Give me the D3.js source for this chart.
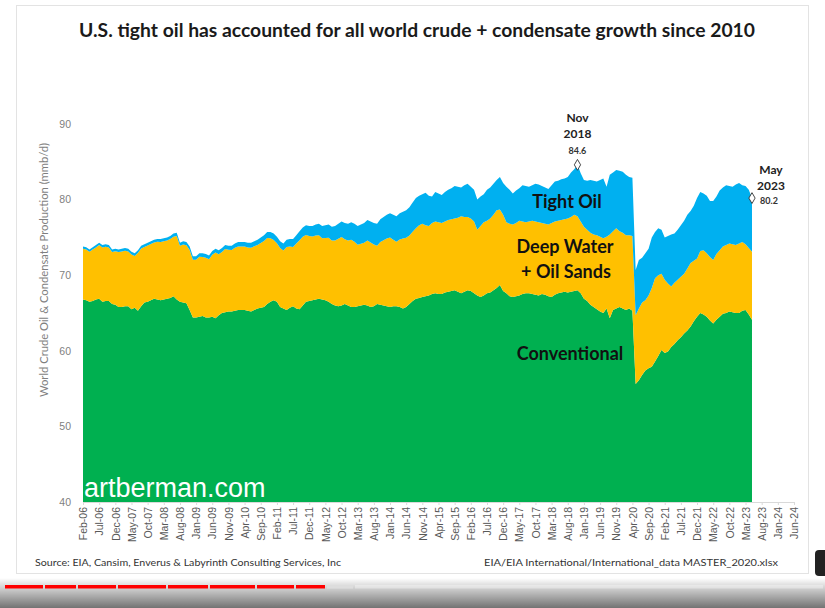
<!DOCTYPE html>
<html>
<head>
<meta charset="utf-8">
<script src="https://cdn.jsdelivr.net/npm/d3@7"></script>
<style>
  body { margin: 0; background: #fff; }
  svg { display: block; }
</style>
</head>
<body>
<div id="chart"></div>
<script>
// x-axis labels, one every 5 months from Feb-06 to Jun-24
var tickLabels = ["Feb-06","Jul-06","Dec-06","May-07","Oct-07","Mar-08","Aug-08","Jan-09","Jun-09","Nov-09",
  "Apr-10","Sep-10","Feb-11","Jul-11","Dec-11","May-12","Oct-12","Mar-13","Aug-13","Jan-14","Jun-14","Nov-14",
  "Apr-15","Sep-15","Feb-16","Jul-16","Dec-16","May-17","Oct-17","Mar-18","Aug-18","Jan-19","Jun-19","Nov-19",
  "Apr-20","Sep-20","Feb-21","Jul-21","Dec-21","May-22","Oct-22","Mar-23","Aug-23","Jan-24","Jun-24"];

var yTicks = [40, 50, 60, 70, 80, 90];

// monthly values, Feb-06 .. May-23 (mmb/d)
var conventional = [
  66.8,66.7,66.5,66.6,66.8,66.9,66.5,66.6,66.6,66.2,66.1,
  65.8,65.8,65.9,65.9,65.5,65.7,65.3,65.9,66.4,66.5,66.7,66.9,
  66.8,66.7,66.8,66.9,67.0,67.2,66.8,66.5,66.4,66.3,65.4,64.4,
  64.4,64.5,64.6,64.4,64.4,64.5,64.3,64.7,65.0,65.1,65.2,65.2,
  65.3,65.4,65.4,65.4,65.3,65.2,65.4,65.6,65.7,65.8,66.2,66.5,
  66.7,66.5,65.8,65.6,65.4,65.7,65.9,65.6,65.5,66.0,66.5,66.6,
  66.7,66.8,66.9,66.8,66.7,66.5,66.2,66.0,65.9,66.0,66.2,66.0,
  65.8,65.8,65.9,66.0,66.1,66.0,65.8,65.9,66.2,66.1,66.0,65.9,
  65.8,65.9,65.9,65.8,65.6,65.8,66.2,66.6,66.9,67.0,67.1,67.2,
  67.3,67.5,67.6,67.5,67.5,67.7,67.8,67.9,68.0,67.8,67.6,67.8,
  68.0,67.9,67.6,67.3,67.1,67.3,67.6,67.7,68.0,68.3,68.7,67.9,
  67.6,67.2,67.1,67.2,67.3,67.5,67.6,67.6,67.5,67.4,67.3,67.5,
  67.4,67.2,67.1,67.4,67.6,67.7,67.8,67.7,67.8,67.9,68.0,67.6,
  66.9,66.6,66.1,65.8,65.5,65.2,65.0,65.6,64.3,65.4,65.6,65.8,
  65.6,65.4,65.6,65.3,55.6,56.1,56.8,57.4,57.7,57.9,58.6,59.3,
  60.1,59.7,59.9,60.5,60.9,61.4,61.8,62.3,62.7,63.2,63.9,64.5,
  65.0,64.8,64.5,64.0,63.6,64.1,64.5,64.9,65.0,65.2,65.1,65.0,
  65.0,65.3,65.4,64.8,64.1
];

var deepWaterOilSands = [
  6.70,6.70,6.59,6.79,6.88,7.08,7.17,7.17,7.07,6.86,7.06,
  7.26,7.35,7.35,7.25,7.24,6.84,7.64,7.63,7.33,7.42,7.42,7.41,
  7.61,7.70,7.70,7.69,7.79,7.88,8.37,7.38,7.66,7.65,7.94,7.64,
  7.64,7.93,7.82,7.92,7.71,8.20,8.69,8.08,8.07,8.36,8.15,8.14,
  8.33,8.41,8.39,8.38,8.36,8.44,8.42,8.40,8.57,8.74,8.71,8.38,
  7.95,7.72,7.80,7.67,8.32,8.08,7.83,8.58,9.13,9.08,8.82,8.57,
  8.42,8.45,8.38,8.10,8.22,8.45,8.38,8.60,8.92,9.04,8.55,8.58,
  8.90,8.62,8.13,8.15,8.18,8.60,8.52,8.15,7.68,8.30,8.62,8.95,
  9.18,8.80,8.52,8.93,9.25,9.15,9.05,9.15,9.30,9.60,9.70,9.40,
  9.20,9.40,9.50,9.50,9.40,9.40,9.50,9.50,9.50,9.80,10.2,9.90,
  9.70,9.60,9.50,8.70,9.40,9.70,9.60,9.80,10.0,10.3,10.0,10.1,
  9.40,9.60,9.60,9.70,9.90,9.60,9.40,9.50,9.70,9.70,9.70,9.40,
  9.40,9.50,9.80,9.70,9.60,9.60,9.60,9.80,9.90,10.1,9.80,9.50,
  9.50,9.40,9.50,9.60,9.80,9.90,9.90,9.50,11.1,10.4,10.6,10.0,
  10.0,9.90,9.70,9.90,9.10,9.50,9.60,9.30,9.60,10.4,11.0,10.7,
  10.1,9.70,9.00,8.00,8.10,8.00,8.00,7.90,8.20,8.40,8.00,7.70,
  8.20,8.50,8.40,8.40,8.40,8.70,8.80,8.90,9.00,9.00,9.00,9.00,
  9.20,9.10,8.70,8.80,9.00
];

var tightOil = [
  0.30,0.30,0.31,0.31,0.32,0.32,0.33,0.33,0.33,0.34,0.34,
  0.34,0.35,0.35,0.35,0.36,0.36,0.36,0.37,0.37,0.38,0.38,0.39,
  0.39,0.40,0.40,0.41,0.41,0.42,0.43,0.42,0.44,0.45,0.46,0.46,
  0.46,0.47,0.48,0.48,0.49,0.50,0.51,0.52,0.53,0.54,0.55,0.56,
  0.57,0.59,0.61,0.62,0.64,0.66,0.68,0.70,0.73,0.76,0.79,0.82,
  0.85,0.88,0.90,0.93,0.98,1.02,1.07,1.12,1.17,1.22,1.28,1.33,
  1.38,1.45,1.52,1.60,1.68,1.75,1.82,1.90,1.98,2.06,2.15,2.22,
  2.30,2.38,2.47,2.55,2.62,2.70,2.78,2.85,2.92,3.00,3.08,3.15,
  3.22,3.30,3.38,3.47,3.55,3.65,3.75,3.85,4.00,3.90,3.90,4.30,
  4.00,3.50,3.90,3.80,3.70,3.90,4.00,4.10,4.30,4.10,3.80,4.20,
  4.40,4.20,4.20,4.00,3.90,3.70,4.10,4.10,4.10,4.00,4.30,4.20,
  4.70,4.50,4.10,4.30,4.30,4.80,4.80,4.60,4.70,5.00,5.00,4.90,
  4.80,4.70,5.00,5.30,5.30,5.40,5.40,5.50,5.90,6.00,6.80,6.40,
  6.20,6.50,7.00,7.10,7.10,7.50,7.90,6.60,7.90,7.80,7.70,8.00,
  8.10,8.00,7.70,7.70,6.00,6.40,5.90,6.20,6.20,6.70,6.10,6.20,
  5.80,5.60,6.30,6.90,6.50,6.60,6.80,7.00,7.10,6.90,7.30,8.00,
  7.80,7.50,7.60,7.40,7.80,7.60,7.90,7.80,7.90,7.60,7.60,8.00,
  8.00,7.50,7.70,7.70,7.10
];

var seriesKeys = ["conventional", "deepWaterOilSands", "tightOil"];
var seriesColors = {conventional: "#00b050", deepWaterOilSands: "#ffc000", tightOil: "#00b0f0"};
var calloutMonths = [{idx: 153, lines: ["Nov", "2018"]}, {idx: 207, lines: ["May", "2023"]}];

var W = 825, H = 608;
var plot = {left: 83, right: 794, top: 124, bottom: 502};

var svg = d3.select("#chart").append("svg")
    .attr("width", W)
    .attr("height", H)
    .style("font-family", "Lato, 'Open Sans', sans-serif");

svg.append("rect").attr("width", W).attr("height", H).attr("fill", "#fff");

// slide frame
svg.append("rect")
    .attr("x", 16.5).attr("y", 5.5)
    .attr("width", 792).attr("height", 568)
    .attr("fill", "#fff")
    .attr("stroke", "#e3e3e3");

var x = d3.scaleLinear().domain([0, 220]).range([plot.left, plot.right]);
var y = d3.scaleLinear().domain([40, 90]).range([plot.bottom, plot.top]);

var rows = conventional.map(function(v, i) {
    return {i: i, conventional: v, deepWaterOilSands: deepWaterOilSands[i], tightOil: tightOil[i]};
});
var stacked = d3.stack().keys(seriesKeys)(rows);

svg.append("clipPath").attr("id", "plotclip")
  .append("rect")
    .attr("x", plot.left - 1).attr("y", plot.top - 30)
    .attr("width", plot.right - plot.left + 2).attr("height", plot.bottom - plot.top + 30);

var area = d3.area()
    .x(function(d) { return x(d.data.i); })
    .y0(function(d) { return y(Math.max(d[0], 40)); })
    .y1(function(d) { return y(d[1]); });

svg.append("g")
    .attr("clip-path", "url(#plotclip)")
  .selectAll("path")
  .data(stacked)
  .enter().append("path")
    .attr("fill", function(d) { return seriesColors[d.key]; })
    .attr("d", area);

// watermark
svg.append("text")
    .attr("x", 84).attr("y", 497)
    .attr("fill", "#fff")
    .style("font-family", "'Liberation Sans', Arial, sans-serif")
    .style("font-size", "27px")
    .text("artberman.com");

// x axis
var xAxis = d3.axisBottom(x)
    .tickValues(d3.range(0, 221, 5))
    .tickFormat(function(d, i) { return tickLabels[i]; })
    .tickSize(3)
    .tickSizeOuter(0);

var gx = svg.append("g")
    .attr("transform", "translate(0," + plot.bottom + ")")
    .call(xAxis);
gx.select(".domain").attr("stroke", "#d9d9d9");
gx.selectAll(".tick line").attr("stroke", "#d9d9d9");
gx.selectAll(".tick text")
    .attr("transform", "rotate(-90)")
    .attr("x", -5)
    .attr("y", 0)
    .attr("dy", "0.35em")
    .style("text-anchor", "end")
    .style("font-size", "10.5px")
    .attr("fill", "#595959");

// y axis
var yAxis = d3.axisLeft(y).tickValues(yTicks).tickSize(0).tickPadding(12);
var gy = svg.append("g")
    .attr("transform", "translate(" + plot.left + ",0)")
    .call(yAxis);
gy.select(".domain").remove();
gy.selectAll(".tick text")
    .style("font-size", "10.5px")
    .attr("fill", "#7f7f7f");

svg.append("text")
    .attr("transform", "translate(48,270) rotate(-90)")
    .attr("text-anchor", "middle")
    .attr("fill", "#7f7f7f")
    .style("font-size", "10.5px")
    .attr("textLength", 254)
    .attr("lengthAdjust", "spacingAndGlyphs")
    .text("World Crude Oil & Condensate Production (mmb/d)");

// title
svg.append("text")
    .attr("x", 417).attr("y", 37)
    .attr("text-anchor", "middle")
    .attr("fill", "#1a1a1a")
    .style("font-size", "18px")
    .style("font-weight", "bold")
    .attr("textLength", 676)
    .attr("lengthAdjust", "spacingAndGlyphs")
    .text("U.S. tight oil has accounted for all world crude + condensate growth since 2010");

// area labels
var areaLabels = [
    {text: "Tight Oil", x: 567, y: 208},
    {text: "Deep Water", x: 565, y: 253},
    {text: "+ Oil Sands", x: 566, y: 278},
    {text: "Conventional", x: 570, y: 360}
];
svg.selectAll(".alabel")
  .data(areaLabels)
  .enter().append("text")
    .attr("class", "alabel")
    .attr("x", function(d) { return d.x; })
    .attr("y", function(d) { return d.y; })
    .attr("text-anchor", "middle")
    .attr("fill", "#111")
    .style("font-size", "18px")
    .style("font-weight", "bold")
    .text(function(d) { return d.text; });

// callouts
var fmt = d3.format(".1f");
calloutMonths.forEach(function(c, k) {
    var r = rows[c.idx];
    var tot = r.conventional + r.deepWaterOilSands + r.tightOil;
    var px = x(c.idx), py = y(tot);
    svg.append("path")
        .attr("transform", "translate(" + px + "," + py + ")")
        .attr("d", d3.symbol().type(d3.symbolDiamond).size(34)())
        .attr("fill", "#fff")
        .attr("stroke", "#333")
        .attr("stroke-width", 0.9);
    var tx = k === 0 ? px : px + 19;
    var ty = k === 0 ? py - 27 : py - 8;
    svg.append("text")
        .attr("x", tx).attr("y", ty - 16)
        .attr("text-anchor", "middle")
        .attr("fill", "#222")
        .style("font-size", "12px").style("font-weight", "bold")
        .text(c.lines[0]);
    svg.append("text")
        .attr("x", tx).attr("y", ty)
        .attr("text-anchor", "middle")
        .attr("fill", "#222")
        .style("font-size", "12px").style("font-weight", "bold")
        .text(c.lines[1]);
    svg.append("text")
        .attr("x", k === 0 ? tx : tx - 2).attr("y", k === 0 ? ty + 16 : ty + 14)
        .attr("text-anchor", "middle")
        .attr("fill", "#333")
        .style("font-size", "9px").style("font-weight", "bold")
        .text(fmt(tot));
});

// footer
svg.append("text")
    .attr("x", 35).attr("y", 566)
    .attr("fill", "#333")
    .style("font-size", "10px")
    .attr("textLength", 306)
    .attr("lengthAdjust", "spacingAndGlyphs")
    .text("Source: EIA, Cansim, Enverus &  Labyrinth Consulting Services, Inc");
svg.append("text")
    .attr("x", 778).attr("y", 566)
    .attr("text-anchor", "end")
    .attr("fill", "#333")
    .style("font-size", "10px")
    .attr("textLength", 294)
    .attr("lengthAdjust", "spacingAndGlyphs")
    .text("EIA/EIA International/International_data MASTER_2020.xlsx");

// video player strip at the bottom of the screenshot
var defs = svg.append("defs");
var grad = defs.append("linearGradient").attr("id", "shade").attr("x1", 0).attr("y1", 0).attr("x2", 0).attr("y2", 1);
grad.append("stop").attr("offset", "0%").attr("stop-color", "#000").attr("stop-opacity", 0);
grad.append("stop").attr("offset", "100%").attr("stop-color", "#000").attr("stop-opacity", 0.55);
svg.append("rect").attr("x", 0).attr("y", 578).attr("width", W).attr("height", 30).attr("fill", "url(#shade)");

var chapterStops = [5, 45, 78, 118, 168, 210, 257, 296, 327, 355, 825];
svg.selectAll(".seg")
  .data(d3.pairs(chapterStops))
  .enter().append("rect")
    .attr("class", "seg")
    .attr("x", function(d) { return d[0]; })
    .attr("y", 585)
    .attr("width", function(d) { return d[1] - d[0] - 2; })
    .attr("height", 3.5)
    .attr("fill", function(d) { return d[1] <= 327 ? "#f00" : (d[1] <= 355 ? "#ddd" : "rgba(255,255,255,0.35)"); });

svg.append("rect").attr("x", 815).attr("y", 550).attr("width", 14).attr("height", 26).attr("rx", 4).attr("fill", "#222");
</script>
</body>
</html>
